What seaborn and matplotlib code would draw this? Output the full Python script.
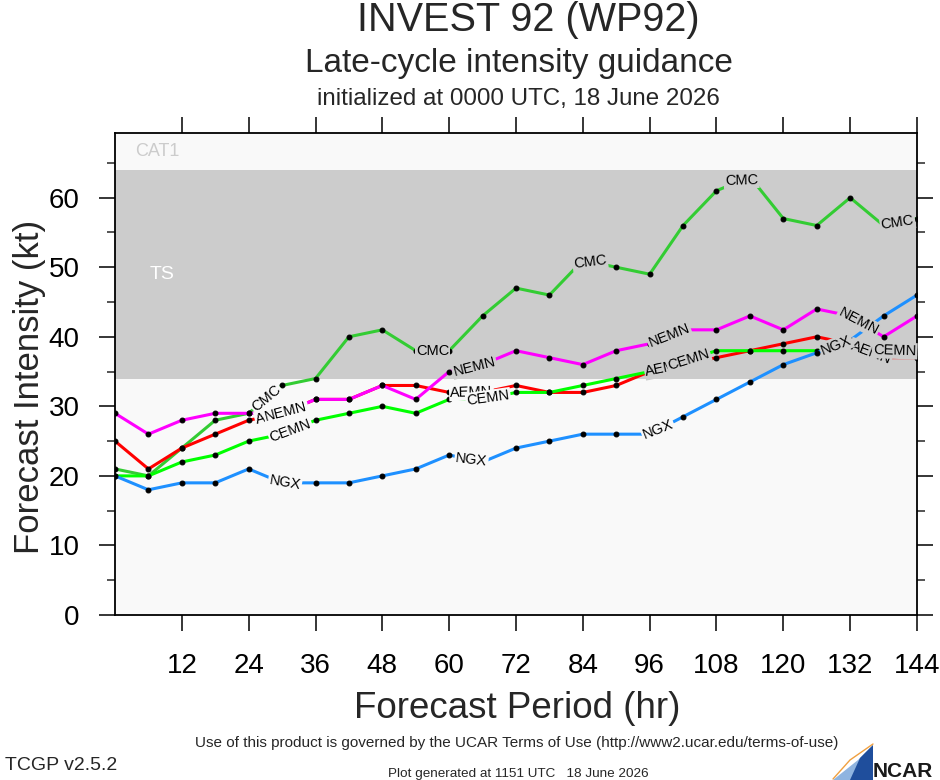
import numpy as np
import pandas as pd
import matplotlib
matplotlib.use("Agg")
import matplotlib.pyplot as plt
from matplotlib.patches import Polygon
import seaborn as sns

# =========================
# DATA
# =========================

hours = list(range(0, 145, 6))

cmc  = [21, 20, 24, 28, 29, 33, 34, 40, 41, 38, 38, 43, 47, 46, 51, 50, 49, 56, 61, 63, 57, 56, 60, 56, 57]
nemn = [29, 26, 28, 29, 29, 29, 31, 31, 33, 31, 35, 36, 38, 37, 36, 38, 39, 41, 41, 43, 41, 44, 43, 40, 43]
aemn = [25, 21, 24, 26, 28, 29, 31, 31, 33, 33, 32, 32, 33, 32, 32, 33, 35, 36, 37, 38, 39, 40, 39, 37, 37]
cemn = [20, 20, 22, 23, 25, 26, 28, 29, 30, 29, 31, 31, 32, 32, 33, 34, 35, 36.5, 38, 38, 38, 38, 39, 38, 38]
ngx  = [20, 18, 19, 19, 21, 19, 19, 19, 20, 21, 23, 22, 24, 25, 26, 26, 26, 28.5, 31, 33.5, 36, 37.7, 39.5, 43, 46]

models = ["CMC", "AEMN", "CEMN", "NEMN", "NGX"]
colors = ["#33cc33", "#ff0000", "#00ff00", "#ff00ff", "#1e90ff"]

# where the model names sit along each line (forecast hour)
label_hours = {
    "CMC":  [27.2, 57, 85.3, 112.5, 140.5],
    "NEMN": [30.7, 64.5, 99.5, 133.5],
    "AEMN": [29, 64, 99, 135.7],
    "CEMN": [31.5, 67, 103, 140],
    "NGX":  [30.5, 64, 97.5, 129.5],
}

x_ticks = list(range(12, 145, 12))
y_ticks = list(range(0, 61, 10))

series = {"CMC": cmc, "NEMN": nemn, "AEMN": aemn, "CEMN": cemn, "NGX": ngx}
df = pd.concat([pd.DataFrame({"hour": hours, "vmax": v, "model": k}) for k, v in series.items()])

# =========================
# FIGURE
# =========================

sns.set_theme(style="ticks")
plt.rcParams['font.family'] = ['Liberation Sans', 'DejaVu Sans']

fig = plt.figure(figsize=(9.4, 7.8), dpi=100)
ax = fig.add_axes([115 / 940, 165 / 780, 802 / 940, 482 / 780])
ax.set_facecolor("#f9f9f9")

ax.axhspan(34, 64, color="#cccccc", lw=0, zorder=0)
ax.text(3.6, 66.6, "CAT1", color="#cccccc", fontsize=13, va="center", ha="left")
ax.text(6.3, 49.0, "TS", color="white", fontsize=14, va="center", ha="left")

sns.lineplot(data=df, x="hour", y="vmax", hue="model", hue_order=models,
             palette=colors, estimator=None, sort=False, linewidth=2.2,
             marker="o", markersize=3.5, markerfacecolor="black",
             markeredgecolor="black", legend=False, ax=ax, zorder=3)

ax.set_xlim(0, 144)
ax.set_ylim(0, 69.3)
ax.set_xticks(x_ticks)
ax.set_yticks(y_ticks)
ax.set_yticks(list(range(5, 70, 10)), minor=True)
ax.set_xlabel("")
ax.set_ylabel("")
ax.tick_params(axis="both", which="major", direction="out", length=11.5, width=1.1,
               labelsize=20, top=True, right=True, colors="black")
ax.tick_params(axis="x", which="major", pad=16)
ax.tick_params(axis="y", which="major", pad=14)
ax.tick_params(axis="y", which="minor", direction="out", length=5.5, width=1.1,
               left=True, right=True)
for s in ax.spines.values():
    s.set_color("black")
    s.set_linewidth(1.3)
ax.grid(False)


def put_label(name, h, ys):
    y = np.interp(h, hours, ys)
    half = 2.8
    p0 = ax.transData.transform((h - half, np.interp(h - half, hours, ys)))
    p1 = ax.transData.transform((h + half, np.interp(h + half, hours, ys)))
    ang = np.degrees(np.arctan2(p1[1] - p0[1], p1[0] - p0[0]))
    face = "#cccccc" if 34 <= y <= 64 else "#f9f9f9"
    ax.text(h, y, name, rotation=ang, rotation_mode="anchor", ha="center", va="center",
            fontsize=10.5, color="black", zorder=5,
            bbox=dict(boxstyle="square,pad=0.08", fc=face, ec="none"))


for name in models:
    for h in label_hours[name]:
        put_label(name, h, series[name])

# =========================
# TEXT
# =========================

fig.text(528 / 940, 1 - 31 / 780, "INVEST 92 (WP92)", fontsize=28.5, ha="center", va="baseline")
fig.text(519 / 940, 1 - 72 / 780, "Late-cycle intensity guidance", fontsize=24, ha="center", va="baseline")
fig.text(518 / 940, 1 - 105 / 780, "initialized at 0000 UTC, 18 June 2026", fontsize=17.4,
         ha="center", va="baseline")
fig.text(517 / 940, 1 - 718 / 780, "Forecast Period (hr)", fontsize=26.5, ha="center", va="baseline")
fig.text(30 / 940, 1 - 387 / 780, "Forecast Intensity (kt)", fontsize=25, rotation=90,
         ha="center", va="center")
fig.text(517 / 940, 1 - 747 / 780,
         "Use of this product is governed by the UCAR Terms of Use (http://www2.ucar.edu/terms-of-use)",
         fontsize=11, ha="center", va="baseline")
fig.text(5 / 940, 1 - 770 / 780, "TCGP v2.5.2", fontsize=14, ha="left", va="baseline")
fig.text(518 / 940, 1 - 777 / 780, "Plot generated at 1151 UTC   18 June 2026", fontsize=9.7,
         ha="center", va="baseline")

# NCAR logo
def fp(px, py):
    return (px / 940, 1 - py / 780)

fig.patches.append(Polygon([fp(833, 780), fp(873, 780), fp(873, 745), fp(858, 760)],
                           closed=True, transform=fig.transFigure, fc="#8fb4e0", ec="none"))
fig.patches.append(Polygon([fp(850, 780), fp(873, 780), fp(873, 745), fp(860, 758)],
                           closed=True, transform=fig.transFigure, fc="#1f4e9c", ec="none"))
fig.lines.append(plt.Line2D([833 / 940, 850 / 940, 873 / 940], [1 - 779 / 780, 1 - 760 / 780, 1 - 744 / 780],
                            transform=fig.transFigure, color="#f0a040", lw=1.0))
fig.text(873 / 940, 1 - 777 / 780, "NCAR", fontsize=15, fontweight="bold", color="#1a1a1a",
         ha="left", va="baseline")

fig.savefig("out.png", dpi=100)
